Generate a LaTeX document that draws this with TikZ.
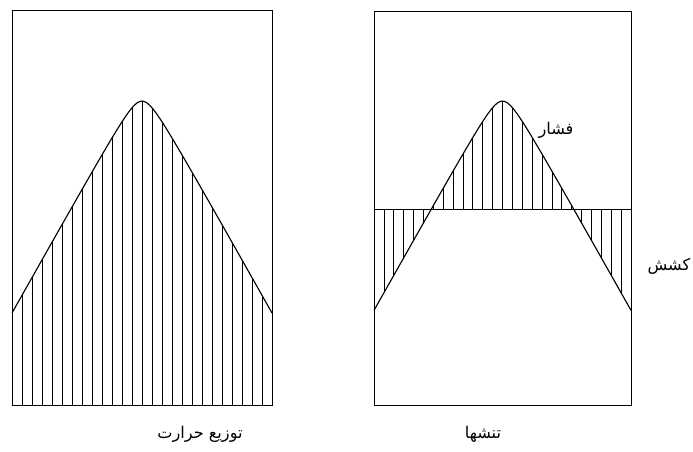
\documentclass[tikz,border=0pt]{standalone}
\usepackage{fontspec}
\newfontfamily\arabicfont[Script=Arabic]{DejaVu Sans}
\TeXXeTstate=1

\tikzset{
  frame/.style={line width=0.7pt},
  hatch/.style={line width=0.5pt},
  hump/.style={line width=0.8pt},
  farsi/.style={font=\arabicfont\fontsize{11.5}{13}\selectfont},
  declare function={bell(\t)=9.25-sqrt(0.25+(1.778*\t)^2);}
}

\begin{document}
\begin{tikzpicture}
    \useasboundingbox (0,0) rectangle (17.325,11.275);

    % 1. 左图：温度分布
    \begin{scope}[xshift=0.3cm]
        \begin{scope}
            \clip (0,1.15) -- plot[domain=0:6.5, samples=80] (\x, {bell(\x-3.25)}) -- (6.5,1.15) -- cycle;
            \foreach \k in {0,...,26}
                \draw[hatch] (\k*0.25, 1.15) -- (\k*0.25, 9);
        \end{scope}
        \draw[hump, domain=0:6.5, samples=80] plot (\x, {bell(\x-3.25)});
        \draw[frame] (0,1.15) rectangle (6.5,11.025);
    \end{scope}

    % 2. 右图：应力
    \begin{scope}[xshift=9.35cm]
        % 压应力部分（上）
        \begin{scope}
            \clip (0,6.05) rectangle (6.425,11);
            \clip (0,1.15) -- plot[domain=0:6.425, samples=80] (\x, {bell(\x-3.2125)}) -- (6.425,1.15) -- cycle;
            \foreach \k in {0,...,26}
                \draw[hatch] (\k*0.2471, 1.15) -- (\k*0.2471, 9);
        \end{scope}
        % 拉应力部分（下）
        \begin{scope}
            \clip (0,1.15) rectangle (6.425,6.05);
            \clip (0,11.025) -- plot[domain=0:6.425, samples=80] (\x, {bell(\x-3.2125)}) -- (6.425,11.025) -- cycle;
            \foreach \k in {0,...,26}
                \draw[hatch] (\k*0.2471, 1.15) -- (\k*0.2471, 9);
        \end{scope}
        \draw[hump, domain=0:6.425, samples=80] plot (\x, {bell(\x-3.2125)});
        \draw[frame] (0,6.05) -- (6.425,6.05);
        \draw[frame] (0,1.15) rectangle (6.425,11.0);
    \end{scope}

    % 3. 标签
    \node[farsi] (heat) at (5.0,0.425) {\beginR توزیع حرارت\endR};
    \node[farsi] (stress) at (12.075,0.425) {\beginR تنشها\endR};
    \node[farsi] (press) at (13.9,8.025) {\beginR فشار\endR};
    \node[farsi, anchor=east] (tens) at (17.38,4.625) {\beginR کشش\endR};
\end{tikzpicture}
\end{document}
